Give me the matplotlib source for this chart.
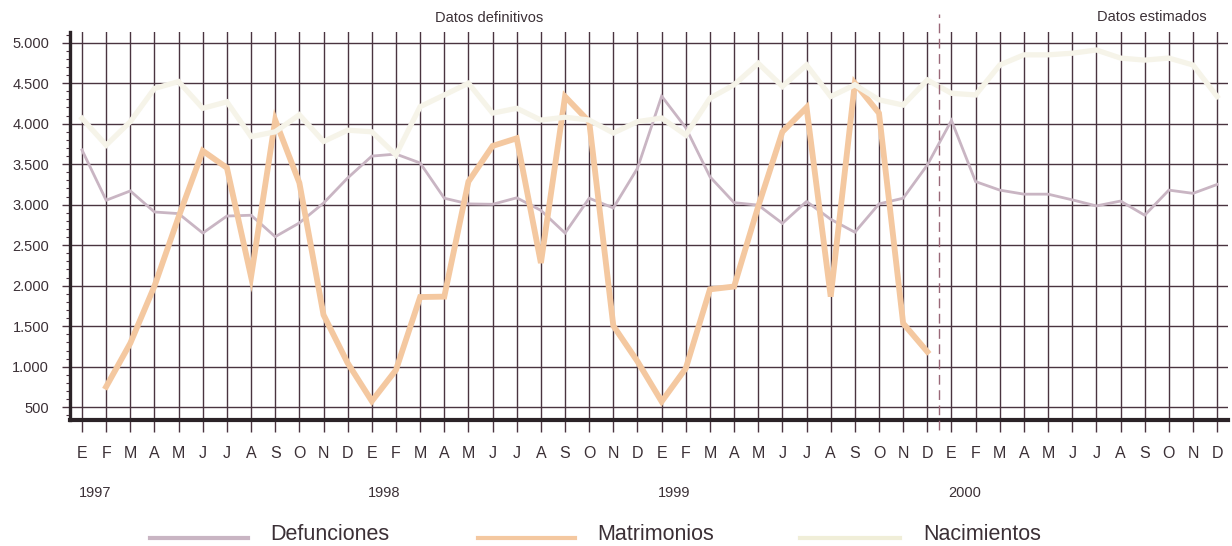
import matplotlib
matplotlib.use('Agg')
import matplotlib.pyplot as plt
from matplotlib.ticker import MultipleLocator, FuncFormatter, FixedLocator
from matplotlib.transforms import blended_transform_factory
from matplotlib.lines import Line2D
from matplotlib import font_manager
import numpy as np

# ---------------- data ----------------
months = ['E', 'F', 'M', 'A', 'M', 'J', 'J', 'A', 'S', 'O', 'N', 'D'] * 4
years = ['1997', '1998', '1999', '2000']

defunciones = [3675, 3055, 3170, 2910, 2890, 2650, 2860, 2870, 2605, 2775, 3020, 3330,
               3600, 3625, 3515, 3080, 3010, 3005, 3085, 2930, 2650, 3080, 2960, 3450,
               4340, 3950, 3345, 3025, 2995, 2770, 3040, 2820, 2660, 3010, 3080, 3490,
               4040, 3285, 3180, 3130, 3130, 3060, 2985, 3045, 2870, 3180, 3140, 3250]

matrimonios = [None, 753, 1290, 1995, 2850, 3665, 3455, 2110, 4045, 3270, 1640, 1045,
               575, 960, 1860, 1865, 3285, 3725, 3820, 2280, 4335, 4025, 1505, 1065,
               570, 980, 1955, 1990, 2980, 3900, 4200, 1865, 4500, 4130, 1535, 1185,
               None, None, None, None, None, None, None, None, None, None, None, None]

nacimientos = [4065, 3735, 4025, 4435, 4520, 4190, 4270, 3840, 3900, 4110, 3780, 3920,
               3900, 3615, 4210, 4355, 4500, 4130, 4190, 4045, 4080, 4045, 3885, 4025,
               4070, 3860, 4315, 4480, 4745, 4460, 4725, 4335, 4480, 4295, 4230, 4540,
               4375, 4355, 4725, 4850, 4850, 4870, 4910, 4810, 4785, 4810, 4725, 4335]

series_names = ['Defunciones', 'Matrimonios', 'Nacimientos']
split_label_left = 'Datos definitivos'
split_label_right = 'Datos estimados'
split_position = 35.5  # between Dec 1999 and Jan 2000

# ---------------- style ----------------
available = {f.name for f in font_manager.fontManager.ttflist}
narrow = 'Liberation Sans Narrow' if 'Liberation Sans Narrow' in available else 'Liberation Sans'
plt.rcParams['font.family'] = ['Liberation Sans', 'DejaVu Sans']

W, H = 1232, 546
grid_c = '#4a3440'
axis_c = '#2b2327'
text_c = '#3b3036'
c_def = '#c9b5c3'
c_mat = '#f4c8a0'
c_nac = '#f6f4e9'

fig = plt.figure(figsize=(W / 100, H / 100), dpi=100)
ax = fig.add_axes([70 / W, (H - 420) / H, (1228 - 70) / W, (420 - 32) / H])

x = np.arange(len(months))
d = np.array(defunciones, dtype=float)
m = np.array([np.nan if v is None else v for v in matrimonios], dtype=float)
n = np.array(nacimientos, dtype=float)

ax.set_xlim(-0.497, 47.45)
ax.set_ylim(342, 5132)

ax.xaxis.set_major_locator(FixedLocator(x))
ax.set_xticklabels(months, fontfamily=narrow, fontsize=11.5, color=text_c)
ax.yaxis.set_major_locator(FixedLocator(np.arange(500, 5001, 500)))
ax.yaxis.set_minor_locator(MultipleLocator(100))
ax.yaxis.set_major_formatter(FuncFormatter(lambda v, p: f"{int(v):,}".replace(',', '.')))

ax.grid(True, which='major', color=grid_c, lw=1.0, zorder=1)
ax.set_axisbelow(True)

ax.tick_params(axis='x', which='major', direction='out', length=8.6, width=1.0,
               color=grid_c, pad=10)
ax.tick_params(axis='y', which='major', direction='out', length=6, width=1.0,
               color=grid_c, pad=9, labelsize=10.5, labelcolor=text_c)
ax.tick_params(axis='y', which='minor', direction='out', length=3, width=0.8, color=grid_c)

for s in ['top', 'right']:
    ax.spines[s].set_visible(False)
ax.spines['left'].set_linewidth(2.4)
ax.spines['left'].set_color(axis_c)
ax.spines['bottom'].set_linewidth(3.0)
ax.spines['bottom'].set_color(axis_c)

ax.plot(x, d, color=c_def, lw=2.0, zorder=3, solid_joinstyle='miter')
ax.plot(x, m, color=c_mat, lw=4.2, zorder=4, solid_joinstyle='miter')
ax.plot(x, n, color=c_nac, lw=3.8, zorder=5, solid_joinstyle='miter')

# dashed split line
tr_xfig = blended_transform_factory(ax.transData, fig.transFigure)
fig.add_artist(Line2D([split_position, split_position], [(H - 430) / H, (H - 14) / H],
                      transform=tr_xfig, color='#9a6878', lw=1.0,
                      dashes=(7, 4), zorder=6))

fig.text(489 / W, (H - 18) / H, split_label_left, ha='center', va='center',
         fontsize=10.5, color=text_c)
fig.text(1152 / W, (H - 17) / H, split_label_right, ha='center', va='center',
         fontsize=10.5, color=text_c)

# year labels
for i, yr in enumerate(years):
    fig.text(0, (H - 493) / H, yr, transform=tr_xfig, ha='left', va='center',
             fontsize=10.5, color=text_c, fontfamily=narrow)
    fig.texts[-1].set_x(i * 12 - 0.15)

# legend (manual)
legend_items = [(150, 248, 270, c_def, 3.0), (478, 575, 597, c_mat, 3.0), (800, 900, 923, '#f0eed8', 3.0)]
for (x0, x1, tx, col, lw), name in zip(legend_items, series_names):
    fig.add_artist(Line2D([x0 / W, x1 / W], [(H - 538) / H] * 2, transform=fig.transFigure,
                          color=col, lw=lw))
    fig.text(tx / W, (H - 535) / H, name, ha='left', va='center', fontsize=15.5, color=text_c)

fig.savefig('out.png', dpi=100)
